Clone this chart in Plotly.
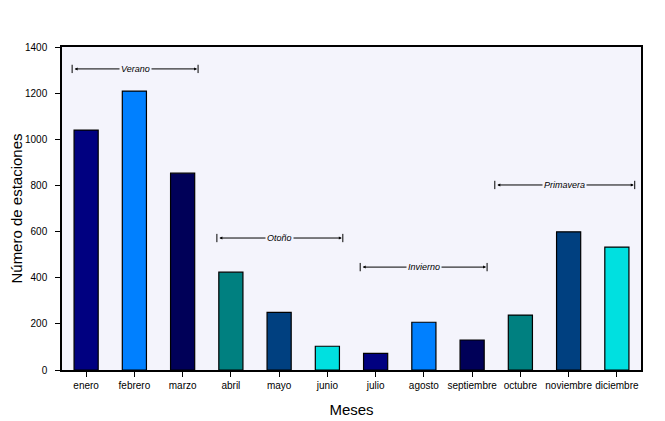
import plotly.graph_objects as go

meses = ["enero", "febrero", "marzo", "abril", "mayo", "junio", "julio",
         "agosto", "septiembre", "octubre", "noviembre", "diciembre"]
estaciones = [1040, 1209, 853, 424, 250, 103, 72, 207, 130, 238, 599, 533]
colores = ["#000080", "#0080FF", "#000058", "#008080", "#004080", "#00E0E0",
           "#000080", "#0080FF", "#000058", "#008080", "#004080", "#00E0E0"]

# estaciones del año: nombre, inicio, fin (en posiciones de categoría), altura
temporadas = ["Verano", "Otoño", "Invierno", "Primavera"]
inicio = [-0.29, 2.71, 5.68, 8.47]
fin = [2.32, 5.32, 8.31, 11.37]
altura = [1305, 572, 446, 802]

fondo = "#F4F4FC"

fig = go.Figure()
fig.add_trace(go.Bar(
    x=list(range(len(meses))), y=estaciones, width=0.5,
    marker=dict(color=colores, line=dict(color="black", width=1.2)),
    showlegend=False,
))

for nombre, a, b, h in zip(temporadas, inicio, fin, altura):
    fig.add_annotation(x=b, y=h, ax=a, ay=h, xref="x", yref="y",
                       axref="x", ayref="y", text="", showarrow=True,
                       arrowhead=2, arrowsize=0.6, arrowwidth=1, arrowside="end+start",
                       arrowcolor="black", standoff=1, startstandoff=1)
    for p in (a, b):
        fig.add_shape(type="line", x0=p, x1=p, y0=h - 18, y1=h + 18,
                      xref="x", yref="y", line=dict(color="black", width=1))
    fig.add_annotation(x=(a + b) / 2, y=h, text="<i>" + nombre + "</i>",
                       showarrow=False, bgcolor=fondo, borderpad=1,
                       font=dict(family="Arial", size=9, color="black"))

# la página tiene un margen de 8 px, así que la figura es algo más pequeña
fig.update_layout(
    width=657, height=413,
    margin=dict(l=54, r=24, t=39, b=51),
    paper_bgcolor="white", plot_bgcolor=fondo,
    font=dict(family="Arial", color="black"),
    bargap=0.5,
)
fig.update_xaxes(
    tickmode="array", tickvals=list(range(len(meses))), ticktext=meses,
    range=[-0.5, 11.5], showline=True, linecolor="black", linewidth=1.5,
    mirror=True, ticks="outside", ticklen=5, tickcolor="black",
    tickfont=dict(size=10), showgrid=False, automargin=False,
    title=dict(text="Meses", font=dict(size=15), standoff=15),
)
fig.update_yaxes(
    range=[0, 1400], dtick=200, showline=True, linecolor="black", linewidth=1.5,
    mirror=True, ticks="outside", ticklen=5, tickcolor="black",
    ticklabelstandoff=6, automargin=False,
    tickfont=dict(size=10), showgrid=False, zeroline=False,
    title=dict(text="Número de estaciones", font=dict(size=15), standoff=11),
)

fig.write_html("out.html")
